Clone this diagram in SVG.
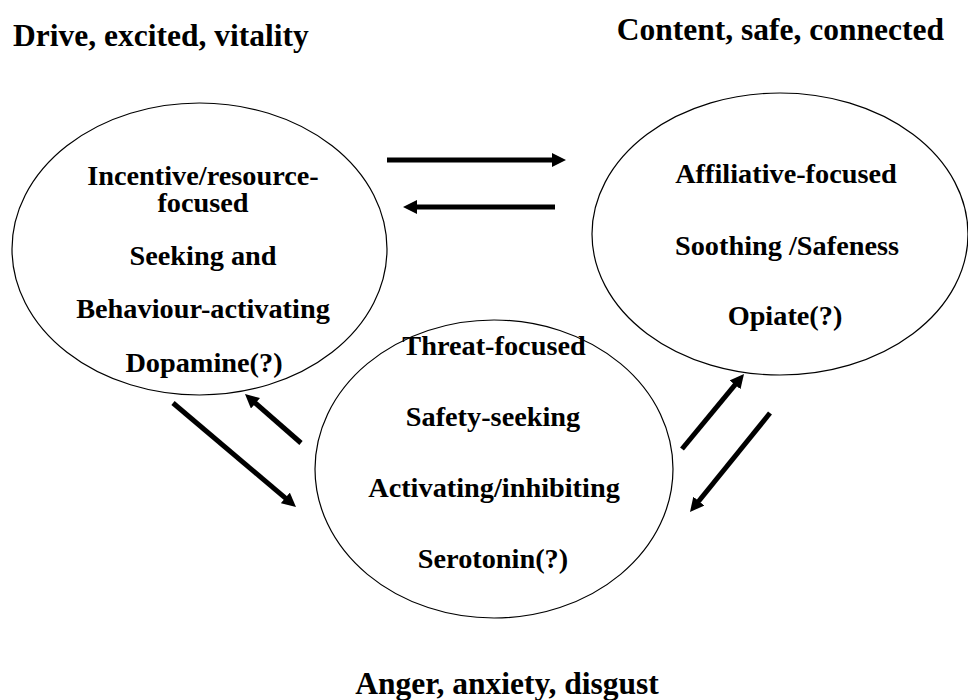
<svg xmlns="http://www.w3.org/2000/svg" width="968" height="700" viewBox="0 0 968 700">
<defs>
<style>
.t{font-family:"Liberation Serif","Times New Roman",serif;font-weight:bold;font-size:28.3px;fill:#000;text-anchor:middle}
.h{font-family:"Liberation Serif","Times New Roman",serif;font-weight:bold;font-size:31.5px;fill:#000}
.e{fill:none;stroke:#000;stroke-width:1.2}
.a{stroke:#000;stroke-width:5;fill:none;marker-end:url(#ah)}
</style>
<marker id="ah" markerUnits="userSpaceOnUse" viewBox="0 0 14 14" markerWidth="14" markerHeight="14" refX="6" refY="7" orient="auto">
<path d="M0,0 L14,7 L0,14 z" fill="#000"/>
</marker>
</defs>
<rect width="968" height="700" fill="#fff"/>
<text class="h" x="13" y="46">Drive, excited, vitality</text>
<text class="h" x="944" y="40" text-anchor="end">Content, safe, connected</text>
<text class="h" x="507" y="694" text-anchor="middle">Anger, anxiety, disgust</text>
<g id="drive">
<ellipse class="e" cx="199.5" cy="249" rx="187.5" ry="146"/>
<text class="t" x="203" y="185">Incentive/resource-</text>
<text class="t" x="203" y="212">focused</text>
<text class="t" x="203" y="265">Seeking and</text>
<text class="t" x="203" y="318">Behaviour-activating</text>
<text class="t" x="204" y="372">Dopamine(?)</text>
</g>
<g id="soothing">
<ellipse class="e" cx="780" cy="234" rx="188" ry="141"/>
<text class="t" x="786" y="183">Affiliative-focused</text>
<text class="t" x="787" y="255">Soothing /Safeness</text>
<text class="t" x="785" y="325">Opiate(?)</text>
</g>
<g id="threat">
<ellipse class="e" cx="494" cy="469" rx="179" ry="149"/>
<text class="t" x="494" y="355">Threat-focused</text>
<text class="t" x="493" y="426">Safety-seeking</text>
<text class="t" x="494" y="497">Activating/inhibiting</text>
<text class="t" x="493" y="568">Serotonin(?)</text>
</g>
<g id="connectors">
<line class="a" x1="387" y1="160" x2="558" y2="160"/>
<line class="a" x1="555" y1="207" x2="411" y2="207"/>
<line class="a" x1="173" y1="403" x2="289.9" y2="501.8"/>
<line class="a" x1="301" y1="443" x2="251" y2="399.3"/>
<line class="a" x1="682" y1="449" x2="738.9" y2="380.2"/>
<line class="a" x1="770" y1="413" x2="695" y2="505.8"/>
</g>
</svg>
